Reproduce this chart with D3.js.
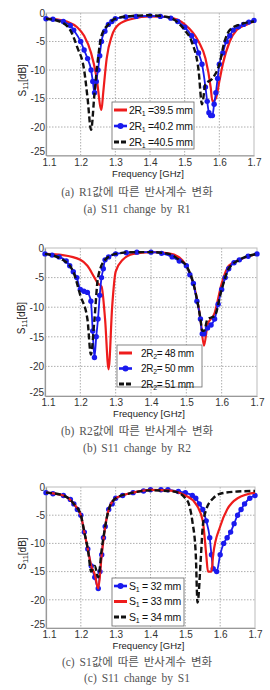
<!DOCTYPE html>
<html>
<head>
<meta charset="utf-8">
<script src="https://cdn.jsdelivr.net/npm/d3@7"></script>
<style>
  body { margin: 0; background: #fff; }
  svg { display: block; }
</style>
</head>
<body>
<svg id="fig" width="270" height="690"></svg>
<script>
// tick labels shared by all three panels
const xTicks = [1.1, 1.2, 1.3, 1.4, 1.5, 1.6, 1.7];
const yTicks = [0, -5, -10, -15, -20, -25];

// (a) S11 vs frequency for 2R1
const a_r395 = [[1.1,-1],[1.13,-1.1],[1.16,-1.5],[1.19,-2.5],[1.21,-4],[1.23,-7],[1.245,-11],[1.26,-17],[1.265,-14],[1.275,-8],[1.29,-4],[1.31,-2],[1.35,-1],[1.4,-0.6],[1.45,-0.7],[1.48,-1.2],[1.5,-2],[1.54,-5],[1.56,-8],[1.575,-13],[1.58,-15.5],[1.59,-15],[1.6,-12],[1.61,-9],[1.63,-5],[1.65,-3],[1.68,-2],[1.7,-1.5]];
const a_r402 = [[1.1,-1],[1.12,-1.1],[1.15,-1.5],[1.17,-2.2],[1.18,-3],[1.2,-5],[1.21,-6.5],[1.22,-8],[1.23,-10],[1.235,-12],[1.24,-14],[1.245,-12],[1.25,-10],[1.255,-7.5],[1.26,-5],[1.27,-3.2],[1.28,-2],[1.29,-1.5],[1.3,-1],[1.33,-0.7],[1.36,-0.6],[1.4,-0.5],[1.43,-0.6],[1.46,-0.9],[1.48,-1.5],[1.5,-2.5],[1.52,-4],[1.53,-5],[1.54,-7],[1.55,-9],[1.56,-13],[1.565,-15.5],[1.57,-17.5],[1.575,-18],[1.58,-18],[1.585,-16],[1.59,-14],[1.595,-11.5],[1.6,-9],[1.61,-7],[1.62,-5],[1.63,-4],[1.64,-3],[1.655,-2.4],[1.67,-2],[1.685,-1.6],[1.7,-1.3]];
const a_r405 = [[1.1,-1],[1.14,-1.5],[1.17,-3],[1.19,-6],[1.21,-10],[1.22,-15],[1.23,-20.5],[1.24,-14],[1.25,-8],[1.26,-4],[1.28,-2],[1.3,-1],[1.35,-0.5],[1.4,-0.4],[1.45,-0.7],[1.47,-1.2],[1.5,-3],[1.52,-5],[1.54,-10],[1.55,-16],[1.56,-12.5],[1.58,-11.5],[1.6,-9],[1.615,-5],[1.63,-3],[1.66,-2],[1.7,-1.5]];

// (b) S11 vs frequency for 2R2
const b_r48 = [[1.1,-1],[1.15,-1.2],[1.2,-2],[1.22,-3],[1.24,-5],[1.25,-6],[1.26,-6.5],[1.27,-12],[1.28,-20.5],[1.29,-10],[1.3,-4],[1.32,-2],[1.35,-1],[1.4,-0.7],[1.45,-0.9],[1.48,-1.6],[1.5,-3],[1.52,-6],[1.54,-12],[1.55,-16.5],[1.56,-13],[1.58,-11],[1.6,-6],[1.62,-3],[1.65,-2],[1.7,-1]];
const b_r50 = [[1.1,-1],[1.12,-1.2],[1.14,-1.5],[1.16,-2.2],[1.17,-3],[1.18,-4],[1.19,-5],[1.2,-7],[1.21,-7.3],[1.22,-7.5],[1.23,-9],[1.235,-14],[1.24,-18.5],[1.245,-15],[1.25,-12],[1.255,-8],[1.26,-5],[1.265,-3.5],[1.27,-2],[1.28,-1.5],[1.3,-1],[1.33,-0.8],[1.36,-0.7],[1.4,-0.7],[1.43,-0.9],[1.46,-1.5],[1.48,-2.2],[1.5,-3],[1.51,-4.5],[1.52,-6],[1.53,-9],[1.54,-12],[1.545,-14.5],[1.55,-14.5],[1.56,-13.5],[1.57,-13],[1.58,-12],[1.59,-9.5],[1.6,-7],[1.61,-5],[1.62,-3.5],[1.635,-2.5],[1.65,-2],[1.675,-1.4],[1.7,-1]];
const b_r51 = [[1.1,-1],[1.15,-2],[1.18,-4],[1.2,-8],[1.22,-12],[1.23,-18],[1.24,-12],[1.25,-5],[1.27,-2],[1.3,-1],[1.35,-0.7],[1.4,-0.7],[1.45,-1],[1.48,-2],[1.5,-3],[1.52,-6],[1.54,-12],[1.545,-14],[1.55,-14],[1.56,-12],[1.58,-11.5],[1.6,-7],[1.62,-3.5],[1.65,-2],[1.7,-1]];

// (c) S11 vs frequency for S1
const c_s32 = [[1.1,-1],[1.12,-1.2],[1.15,-1.5],[1.17,-2.2],[1.18,-3],[1.19,-4],[1.2,-5],[1.21,-8],[1.22,-11],[1.23,-14],[1.24,-16],[1.25,-18],[1.255,-15],[1.26,-12],[1.265,-9],[1.27,-7],[1.28,-4],[1.29,-3],[1.3,-2],[1.32,-1.5],[1.35,-1],[1.38,-0.7],[1.4,-0.5],[1.43,-0.5],[1.45,-0.5],[1.48,-0.8],[1.5,-1],[1.52,-1.5],[1.53,-2],[1.54,-3],[1.55,-4],[1.56,-6],[1.57,-9],[1.575,-12],[1.58,-14.5],[1.59,-15],[1.6,-12],[1.61,-10],[1.62,-9],[1.63,-8],[1.64,-6.5],[1.65,-5],[1.66,-4],[1.67,-3],[1.685,-2],[1.7,-1.5]];
const c_s33 = [[1.1,-1],[1.15,-1.5],[1.18,-3],[1.2,-5],[1.21,-8],[1.22,-11],[1.23,-14],[1.24,-15.5],[1.25,-18],[1.26,-12],[1.27,-7],[1.28,-4],[1.3,-2],[1.35,-1],[1.4,-0.5],[1.45,-0.6],[1.5,-1.5],[1.53,-3],[1.55,-6],[1.56,-12],[1.565,-15],[1.575,-15],[1.58,-12],[1.6,-7],[1.62,-4],[1.65,-2],[1.7,-1]];
const c_s34 = [[1.1,-1],[1.15,-1.5],[1.18,-3],[1.2,-5],[1.21,-8],[1.22,-11],[1.23,-15],[1.24,-14],[1.25,-16],[1.26,-11],[1.27,-7],[1.28,-4],[1.3,-2],[1.35,-1],[1.4,-0.6],[1.45,-0.7],[1.48,-1],[1.5,-2],[1.51,-3],[1.52,-6],[1.53,-12],[1.535,-20.5],[1.545,-12],[1.55,-7],[1.56,-4],[1.58,-2],[1.6,-1.2],[1.65,-0.8],[1.7,-0.7]];

const svg = d3.select("#fig");

function drawPanel(p) {
  let g = svg.append("g");

  let x = d3.scaleLinear().domain([1.1, 1.7]).range([p.left, p.right]);
  let y = d3.scaleLinear().domain([-25, 0]).range([p.bottom, p.top]);

  // dotted grid
  g.selectAll(".gx")
    .data(xTicks.slice(1, -1))
    .join("line")
    .attr("x1", (d) => x(d)).attr("x2", (d) => x(d))
    .attr("y1", p.top).attr("y2", p.bottom)
    .attr("stroke", "#999").attr("stroke-width", 0.8)
    .attr("stroke-dasharray", "1.5,1.5");
  g.selectAll(".gy")
    .data(yTicks.slice(1, -1))
    .join("line")
    .attr("x1", p.left).attr("x2", p.right)
    .attr("y1", (d) => y(d)).attr("y2", (d) => y(d))
    .attr("stroke", "#999").attr("stroke-width", 0.8)
    .attr("stroke-dasharray", "1.5,1.5");

  // frame
  g.append("rect")
    .attr("x", p.left).attr("y", p.top)
    .attr("width", p.right - p.left).attr("height", p.bottom - p.top)
    .attr("fill", "none").attr("stroke", "#bbb").attr("stroke-width", 1);

  let xAxis = g.append("g")
    .attr("transform", `translate(0, ${p.bottom})`)
    .call(d3.axisBottom(x).tickValues(xTicks).tickFormat(d3.format(".1f")).tickSize(0).tickPadding(3));
  let yAxis = g.append("g")
    .attr("transform", `translate(${p.left}, 0)`)
    .call(d3.axisLeft(y).tickValues(yTicks).tickFormat((d) => d3.format("d")(d).replace("−", "-")).tickSize(0).tickPadding(1));
  for (let ax of [xAxis, yAxis]) {
    ax.select(".domain").attr("stroke", "#999").attr("stroke-width", 1.2);
    ax.selectAll("text")
      .attr("font-family", "Liberation Sans, Arial, sans-serif")
      .attr("font-size", 10).attr("fill", "#333");
  }
  // the -25 label sits just above the 1.1 label
  yAxis.selectAll(".tick text").filter((d) => d === -25).attr("dy", "-0.1em");
  xAxis.selectAll(".tick text").filter((d) => d === 1.1).attr("dx", "0.3em");

  // axis titles
  g.append("text")
    .attr("x", (p.left + p.right) / 2 - 2).attr("y", p.bottom + 21)
    .attr("text-anchor", "middle")
    .attr("font-family", "Liberation Sans, Arial, sans-serif")
    .attr("font-size", 9.5).attr("fill", "#222")
    .text("Frequency [GHz]");
  let yl = g.append("text")
    .attr("transform", `translate(${p.left - 20}, ${(p.top + p.bottom) / 2 - 4}) rotate(-90)`)
    .attr("text-anchor", "middle")
    .attr("font-family", "Liberation Sans, Arial, sans-serif")
    .attr("font-size", 10).attr("fill", "#222");
  yl.append("tspan").text("S");
  yl.append("tspan").attr("font-size", 7.5).attr("dy", 2).text("11");
  yl.append("tspan").attr("dy", -2).text("[dB]");

  let line = d3.line()
    .x((d) => x(d[0]))
    .y((d) => y(d[1]))
    .curve(d3.curveMonotoneX);

  let plot = g.append("g");
  for (let s of p.series) {
    plot.append("path")
      .datum(s.data)
      .attr("d", line)
      .attr("fill", "none")
      .attr("stroke", s.color)
      .attr("stroke-width", s.width)
      .attr("stroke-dasharray", s.dash || null)
      .attr("stroke-linejoin", "round");
    if (s.marker) {
      plot.selectAll(null)
        .data(s.data)
        .join("circle")
        .attr("cx", (d) => x(d[0]))
        .attr("cy", (d) => y(d[1]))
        .attr("r", 2.7)
        .attr("fill", s.color);
    }
  }

  // legend
  let lg = g.append("g");
  lg.append("rect")
    .attr("x", p.legend.x).attr("y", p.legend.y)
    .attr("width", p.legend.w).attr("height", p.legend.h)
    .attr("fill", "#fff").attr("stroke", "#666").attr("stroke-width", 0.8);
  p.series.forEach((s, i) => {
    let ly = p.legend.y + 8 + i * p.legend.step;
    let lx = p.legend.x + 2;
    lg.append("line")
      .attr("x1", lx).attr("x2", lx + 13)
      .attr("y1", ly).attr("y2", ly)
      .attr("stroke", s.color).attr("stroke-width", s.width + 0.8)
      .attr("stroke-dasharray", s.dash ? "5,2" : null);
    if (s.marker) {
      lg.append("circle").attr("cx", lx + 6.5).attr("cy", ly).attr("r", 3).attr("fill", s.color);
    }
    let t = lg.append("text")
      .attr("x", lx + p.legend.tx).attr("y", ly + 3.5)
      .attr("font-family", "Liberation Sans, Arial, sans-serif")
      .attr("font-size", p.legend.fs).attr("fill", "#111")
      .attr("letter-spacing", -0.3);
    t.append("tspan").text(s.name[0]);
    t.append("tspan").attr("font-size", 7).attr("dy", 2).text(s.name[1]);
    t.append("tspan").attr("dy", -2).text(s.name[2]);
  });

  // captions
  for (let [i, c] of p.caption.entries()) {
    g.append("text")
      .attr("x", 137).attr("y", p.capY[i])
      .attr("text-anchor", "middle")
      .attr("font-family", "Liberation Serif, 'Noto Sans CJK KR', serif")
      .attr("font-size", 11.5).attr("fill", "#555")
      .attr("word-spacing", 2)
      .text(c);
  }
}

drawPanel({
  left: 46, right: 254, top: 13, bottom: 155.5,
  legend: { x: 112, y: 102, w: 82, h: 47, tx: 15, fs: 10.5, step: 16 },
  capY: [196, 213],
  caption: ["(a) R1값에 따른 반사계수 변화", "(a) S11 change by R1"],
  series: [
    { data: a_r395, color: "#ee1c1c", width: 2.2, name: ["2R", "1", " =39.5 mm"] },
    { data: a_r402, color: "#1a1aee", width: 1.8, marker: true, name: ["2R", "1", " =40.2 mm"] },
    { data: a_r405, color: "#111", width: 2.4, dash: "6,3", name: ["2R", "1", " =40.5 mm"] }
  ]
});

drawPanel({
  left: 45, right: 257, top: 248, bottom: 396,
  legend: { x: 117, y: 345, w: 85, h: 42, tx: 22, fs: 10, step: 15.5 },
  capY: [435, 452],
  caption: ["(b) R2값에 따른 반사계수 변화", "(b) S11 change by R2"],
  series: [
    { data: b_r48, color: "#ee1c1c", width: 2.2, name: ["2R", "2", "= 48 mm"] },
    { data: b_r50, color: "#1a1aee", width: 1.8, marker: true, name: ["2R", "2", "= 50 mm"] },
    { data: b_r51, color: "#111", width: 2.4, dash: "6,3", name: ["2R", "2", "= 51 mm"] }
  ]
});

drawPanel({
  left: 46, right: 255, top: 487, bottom: 628,
  legend: { x: 112, y: 578, w: 72, h: 48, tx: 15, fs: 10.5, step: 15.5 },
  capY: [666, 682],
  caption: ["(c) S1값에 따른 반사계수 변화", "(c) S11 change by S1"],
  series: [
    { data: c_s32, color: "#1a1aee", width: 1.8, marker: true, name: ["S", "1", " = 32 mm"] },
    { data: c_s33, color: "#ee1c1c", width: 2.2, name: ["S", "1", " = 33 mm"] },
    { data: c_s34, color: "#111", width: 2.4, dash: "6,3", name: ["S", "1", " = 34 mm"] }
  ]
});
</script>
</body>
</html>
